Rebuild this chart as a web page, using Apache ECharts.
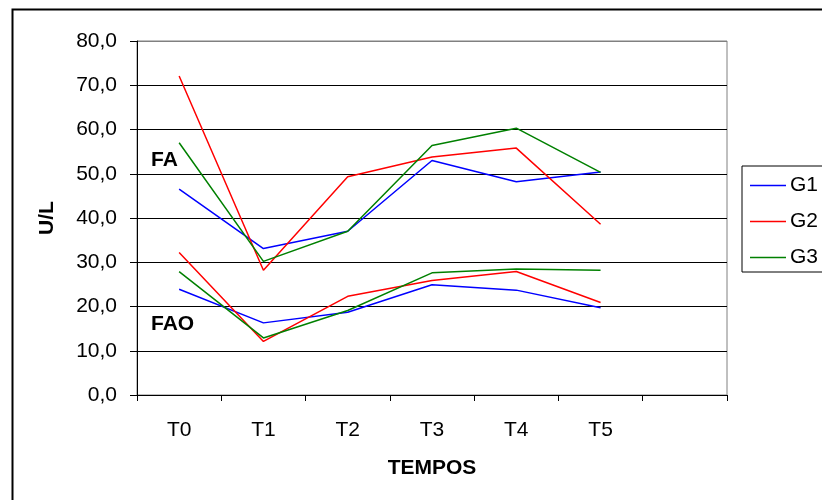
<!DOCTYPE html>
<html>
<head>
<meta charset="utf-8">
<script src="https://cdn.jsdelivr.net/npm/echarts@6/dist/echarts.min.js"></script>
<style>html,body{margin:0;padding:0;background:#fff;}#c{width:822px;height:500px;}</style>
</head>
<body>
<div id="c"></div>
<script>
var categories = ['T0', 'T1', 'T2', 'T3', 'T4', 'T5', ''];
var yTicks = [0, 10, 20, 30, 40, 50, 60, 70, 80];
var g1FA = [46.5, 33.1, 37.0, 53.0, 48.2, 50.4];
var g2FA = [72.1, 28.2, 49.3, 53.8, 55.8, 38.6];
var g3FA = [57.0, 30.2, 37.0, 56.4, 60.3, 50.3];
var g1FAO = [23.9, 16.3, 18.7, 24.9, 23.7, 19.7];
var g2FAO = [32.2, 12.1, 22.3, 25.9, 27.9, 20.9];
var g3FAO = [27.9, 12.9, 19.1, 27.6, 28.5, 28.2];
var groupNames = ['G1', 'G2', 'G3'];
var colors = ['#0000FF', '#FF0000', '#008000'];

var font = "'Liberation Sans', Arial, sans-serif";
var fs = 21;
var chart = echarts.init(document.getElementById('c'), null, {renderer: 'canvas'});

function mk(name, data, color) {
  return {
    name: name, type: 'line', data: data, symbol: 'none',
    lineStyle: {color: color, width: 1.5}, itemStyle: {color: color},
    animation: false
  };
}

var option = {
  animation: false,
  backgroundColor: '#fff',
  color: colors,
  grid: {left: 137, top: 41, width: 590, height: 354, show: true, borderColor: '#808080', borderWidth: 1},
  xAxis: {
    type: 'category', data: categories, boundaryGap: true,
    axisLine: {lineStyle: {color: '#000', width: 1}},
    axisTick: {show: true, length: 6, alignWithLabel: false, lineStyle: {color: '#000'}},
    axisLabel: {color: '#000', fontSize: fs, fontFamily: font, margin: 25},
    name: 'TEMPOS', nameLocation: 'middle', nameGap: 63, nameMoveOverlap: false,
    nameTextStyle: {color: '#000', fontSize: fs, fontWeight: 'bold', fontFamily: font}
  },
  yAxis: {
    type: 'value', min: yTicks[0], max: yTicks[yTicks.length - 1], interval: 10,
    axisLine: {show: true, lineStyle: {color: '#000', width: 1}},
    axisTick: {show: true, length: 7, lineStyle: {color: '#000'}},
    splitLine: {show: true, lineStyle: {color: ['#000', '#000', '#000', '#000', '#000', '#000', '#000', '#000', '#808080'], width: 1}},
    axisLabel: {color: '#000', fontSize: fs, fontFamily: font, margin: 20,
      formatter: function (v) { return v.toFixed(1).replace('.', ','); }},
    name: 'U/L', nameLocation: 'middle', nameGap: 79, nameRotate: 90, nameMoveOverlap: false,
    nameTextStyle: {color: '#000', fontSize: fs, fontWeight: 'bold', fontFamily: font}
  },
  legend: {
    data: groupNames.map(function (n) { return {name: n}; }),
    orient: 'vertical', left: 742, top: 166,
    padding: [9, 40, 4, 8],
    icon: 'rect',
    itemWidth: 36, itemHeight: 1.5, itemGap: 15,
    borderColor: '#000', borderWidth: 1,
    textStyle: {color: '#000', fontSize: fs, fontFamily: font, lineHeight: 20, padding: [0, 0, 0, -1]}
  },
  graphic: [
    {type: 'rect', left: 10, top: 7, shape: {width: 900, height: 600}, style: {fill: 'none', stroke: '#000', lineWidth: 2}, z: -1},
    {type: 'text', left: 151, top: 150, style: {text: 'FA', fill: '#000', font: 'bold ' + fs + 'px ' + font}},
    {type: 'text', left: 151, top: 314, style: {text: 'FAO', fill: '#000', font: 'bold ' + fs + 'px ' + font}}
  ],
  series: [
    mk(groupNames[0], g1FA, colors[0]),
    mk(groupNames[1], g2FA, colors[1]),
    mk(groupNames[2], g3FA, colors[2]),
    mk(groupNames[0], g1FAO, colors[0]),
    mk(groupNames[1], g2FAO, colors[1]),
    mk(groupNames[2], g3FAO, colors[2])
  ]
};
chart.setOption(option);
</script>
</body>
</html>
